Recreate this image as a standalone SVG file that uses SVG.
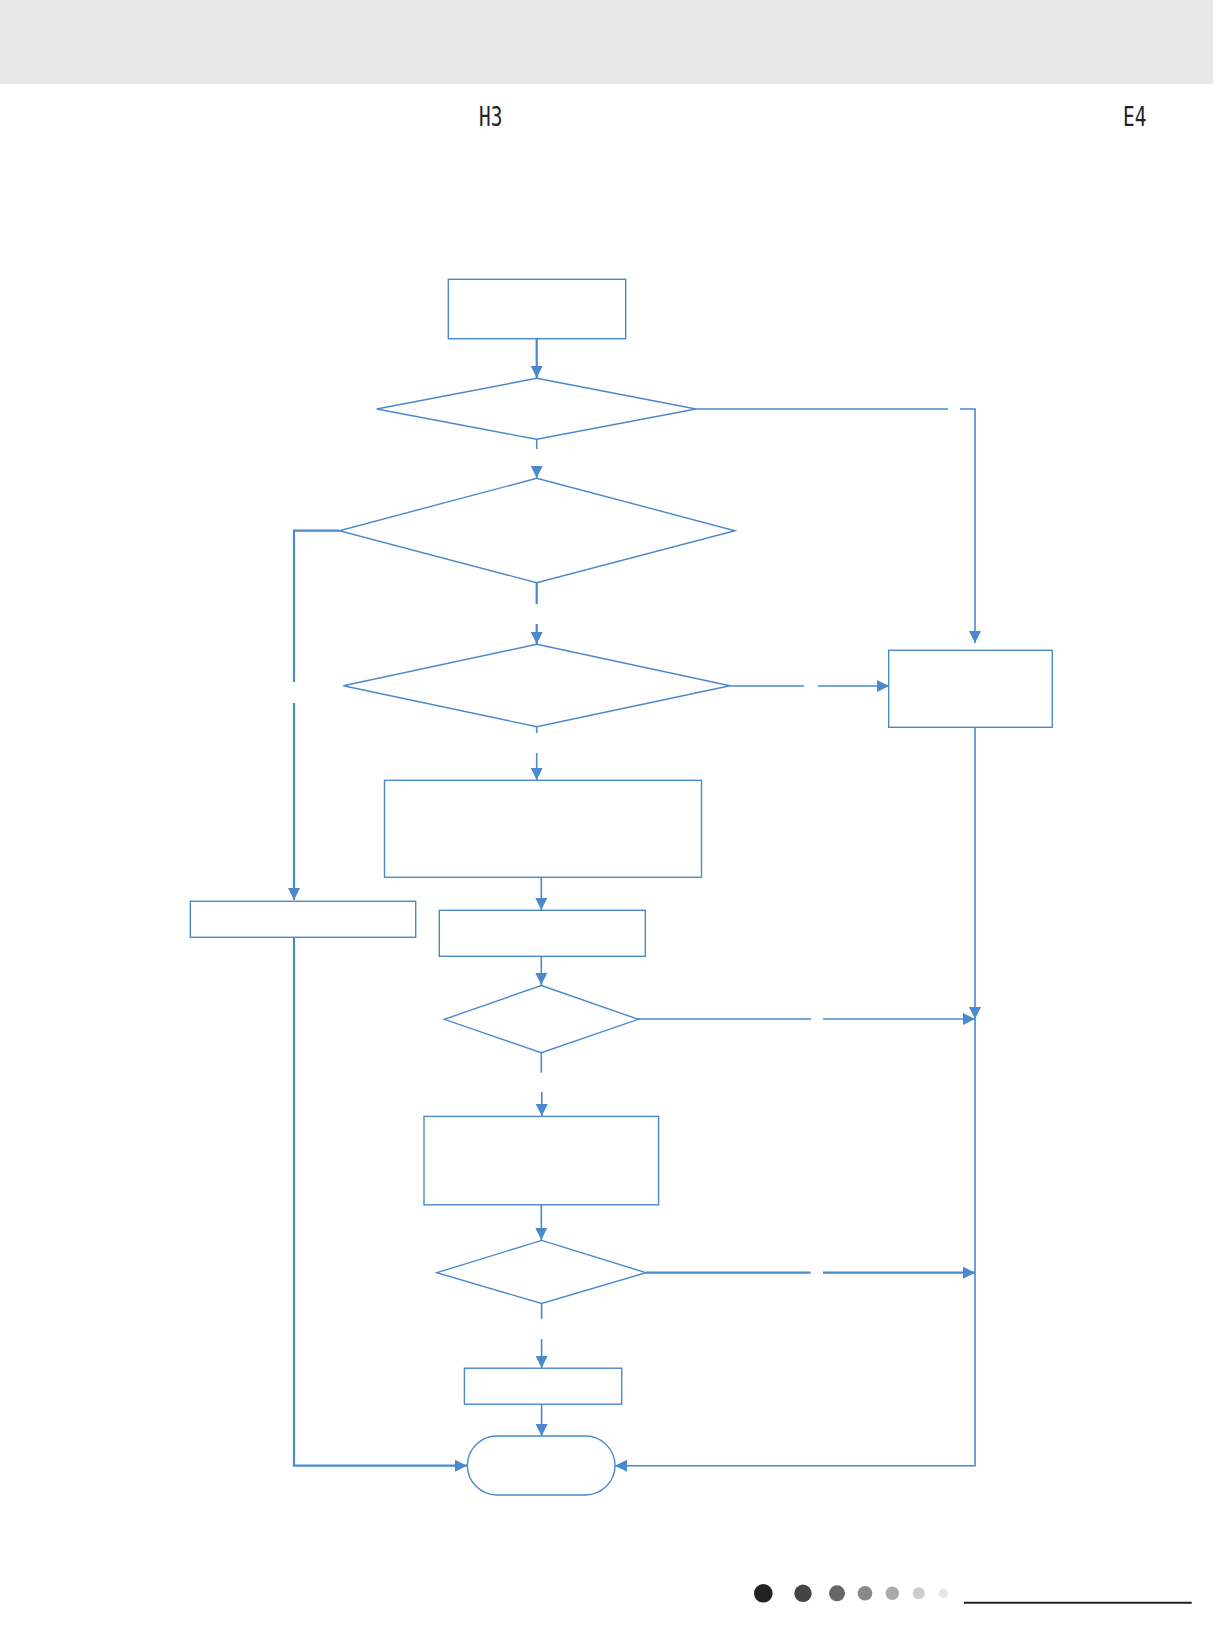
<svg xmlns="http://www.w3.org/2000/svg" width="1213" height="1644" viewBox="0 0 1213 1644">
<style>
.n{fill:#fff;stroke:#4a89cc;stroke-width:1.4}
.c{fill:none;stroke:#4a89cc;stroke-width:1.6}
.t{stroke-width:2.2}
.seg{font-family:"DejaVu Sans Mono","Liberation Mono",monospace;font-size:27px;fill:#222}
</style>
<defs>
<marker id="a" viewBox="0 0 10 10" refX="10" refY="5" markerWidth="12" markerHeight="12" markerUnits="userSpaceOnUse" orient="auto">
<path d="M0,0 L10,5 L0,10 Z" fill="#4a89cc"/>
</marker>
</defs>
<rect x="0" y="0" width="1213" height="84" fill="#e8e8e8"/>
<text class="seg" transform="translate(479,126) scale(0.72,1)">H3</text>
<text class="seg" transform="translate(1123,126) scale(0.72,1)">E4</text>

<g id="connectors">
<path class="c t" d="M536.7,339 V378" marker-end="url(#a)"/>
<path class="c" d="M536.7,439 V449"/>
<path class="c" d="M536.7,466 V478" marker-end="url(#a)"/>
<path class="c" d="M696,409 H948"/>
<path class="c" d="M960,409 H975 V643" marker-end="url(#a)"/>
<path class="c t" d="M536.7,583 V604"/>
<path class="c t" d="M536.7,624 V644" marker-end="url(#a)"/>
<path class="c t" d="M339,530.7 H294 V682"/>
<path class="c t" d="M294,703 V900" marker-end="url(#a)"/>
<path class="c" d="M730,686 H804"/>
<path class="c" d="M818,686 H889" marker-end="url(#a)"/>
<path class="c" d="M536.7,727 V733"/>
<path class="c" d="M536.7,753 V780" marker-end="url(#a)"/>
<path class="c" d="M541.3,877 V910" marker-end="url(#a)"/>
<path class="c" d="M541.3,956 V985" marker-end="url(#a)"/>
<path class="c" d="M638,1019 H811"/>
<path class="c" d="M823,1019 H975" marker-end="url(#a)"/>
<path class="c" d="M975,727.6 V1019" marker-end="url(#a)"/>
<path class="c" d="M975,1019 V1465.7 H615" marker-end="url(#a)"/>
<path class="c" d="M541.3,1052.7 V1072.7"/>
<path class="c" d="M541.8,1092 V1116" marker-end="url(#a)"/>
<path class="c" d="M541.3,1205 V1240" marker-end="url(#a)"/>
<path class="c t" d="M646,1272.7 H810.6"/>
<path class="c t" d="M823,1272.7 H975" marker-end="url(#a)"/>
<path class="c" d="M541.6,1303.5 V1319"/>
<path class="c" d="M541.6,1339 V1368" marker-end="url(#a)"/>
<path class="c" d="M541.6,1404 V1436" marker-end="url(#a)"/>
<path class="c t" d="M294,937 V1465.7 H467" marker-end="url(#a)"/>
</g>

<g id="n1"><rect class="n" x="448.3" y="279.3" width="177.4" height="59.4"/></g>
<g id="d1"><polygon class="n" points="536.7,378.3 696,409 536.7,439.3 376.7,409"/></g>
<g id="d2"><polygon class="n" points="536.7,478.3 735,530.7 536.7,582.7 339.3,530.7"/></g>
<g id="d3"><polygon class="n" points="536.7,644.3 730,685.7 536.7,726.7 343.3,685.7"/></g>
<g id="n2"><rect class="n" x="888.7" y="650.3" width="163.6" height="77"/></g>
<g id="n3"><rect class="n" x="384.5" y="780.3" width="317" height="97"/></g>
<g id="n4"><rect class="n" x="190.3" y="901.3" width="225.4" height="36"/></g>
<g id="n5"><rect class="n" x="439.3" y="910.3" width="206" height="46"/></g>
<g id="d4"><polygon class="n" points="541.3,985.5 638.3,1019.3 541.3,1052.7 444.3,1019.3"/></g>
<g id="n6"><rect class="n" x="424" y="1116.4" width="234.6" height="88.4"/></g>
<g id="d5"><polygon class="n" points="541.6,1240.4 646,1272.7 541.6,1303.5 436.8,1272.7"/></g>
<g id="n7"><rect class="n" x="464.4" y="1368.2" width="157.3" height="36"/></g>
<g id="n8"><rect class="n" x="467.4" y="1436" width="147.6" height="59" rx="29.5" ry="29.5"/></g>

<g id="footer">
<circle cx="763.3" cy="1593.3" r="9.3" fill="#222"/>
<circle cx="803" cy="1593.3" r="8.7" fill="#444"/>
<circle cx="837" cy="1593.3" r="8" fill="#666"/>
<circle cx="865" cy="1593.3" r="7.3" fill="#888"/>
<circle cx="892.3" cy="1593.3" r="6.7" fill="#aaa"/>
<circle cx="918.7" cy="1593.3" r="6" fill="#ccc"/>
<circle cx="943.3" cy="1593.3" r="4.7" fill="#e6e6e6"/>
<line x1="964" y1="1602.7" x2="1191.7" y2="1602.7" stroke="#222" stroke-width="2"/>
</g>
</svg>
